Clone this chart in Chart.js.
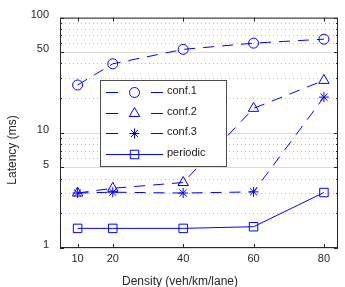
<!DOCTYPE html>
<html><head><meta charset="utf-8">
<script src="https://cdn.jsdelivr.net/npm/chart.js@4"></script>
<style>html,body{margin:0;padding:0;background:#fff;}#wrap{width:345px;height:287px;}</style>
</head><body><div id="wrap"><canvas id="c" width="345" height="287"></canvas></div>
<script>
const densities = [10, 20, 40, 60, 80];
const conf1 = [26, 39.7, 53, 60, 65];
const conf2 = [3.0, 3.3, 3.7, 16.3, 28.5];
const conf3 = [3.0, 3.05, 3.0, 3.07, 20.4];
const periodic = [1.48, 1.48, 1.48, 1.53, 3.03];
const seriesNames = ['conf.1', 'conf.2', 'conf.3', 'periodic'];
const xTickValues = [10, 20, 40, 60, 80];
const yTickValues = [1, 5, 10, 50, 100];
const yMinorValues = [2, 3, 4, 6, 7, 8, 9, 20, 30, 40, 60, 70, 80, 90];
const xTitle = 'Density (veh/km/lane)';
const yTitle = 'Latency (ms)';

const BLUE = '#0000ff';
const FONT = "'Liberation Sans', Arial, sans-serif";
const toPts = arr => arr.map((v, i) => ({x: densities[i], y: v}));

function ds(label, data, style, radius, dash) {
  return {
    label, data: toPts(data), borderColor: BLUE, backgroundColor: 'rgba(0,0,0,0)',
    borderWidth: 1, borderDash: dash, pointStyle: style, pointRadius: radius,
    pointBorderColor: BLUE, pointBackgroundColor: 'rgba(0,0,0,0)', pointBorderWidth: 1,
    tension: 0, fill: false
  };
}

const datasets = [
  ds(seriesNames[0], conf1, 'circle', 5, [11, 8]),
  ds(seriesNames[1], conf2, 'triangle', 6, [11, 8]),
  ds(seriesNames[2], conf3, 'star', 5, [11, 8]),
  ds(seriesNames[3], periodic, 'rect', 6, [])
];

function drawMarker(ctx, style, r, x, y) {
  if (Chart.helpers && Chart.helpers.drawPoint) {
    Chart.helpers.drawPoint(ctx, {pointStyle: style, radius: r, rotation: 0, borderWidth: 1}, x, y);
  }
}

const deco = {
  id: 'deco',
  beforeDatasetsDraw(chart) {
    const ctx = chart.ctx, a = chart.chartArea, ys = chart.scales.y;
    ctx.save();
    ctx.lineWidth = 1;
    ctx.strokeStyle = '#b8b8b8';
    ctx.setLineDash([1, 3]);
    yMinorValues.forEach(v => {
      const py = Math.round(ys.getPixelForValue(v)) + 0.5;
      ctx.beginPath(); ctx.moveTo(a.left + 1, py); ctx.lineTo(a.right - 1, py); ctx.stroke();
    });
    ctx.setLineDash([]);
    ctx.strokeStyle = '#dadada';
    yTickValues.forEach(v => {
      const py = Math.round(ys.getPixelForValue(v)) + 0.5;
      ctx.beginPath(); ctx.moveTo(a.left, py); ctx.lineTo(a.right, py); ctx.stroke();
    });
    ctx.restore();
  },
  afterDatasetsDraw(chart) {
    const ctx = chart.ctx, a = chart.chartArea, ys = chart.scales.y, xs = chart.scales.x;
    ctx.save();
    ctx.setLineDash([]);
    ctx.lineWidth = 1;
    ctx.strokeStyle = '#262626';
    ctx.strokeRect(a.left + 0.5, a.top + 0.5, a.right - a.left - 1, a.bottom - a.top - 1);
    ctx.beginPath();
    xTickValues.forEach(v => {
      const px = Math.round(xs.getPixelForValue(v)) + 0.5;
      ctx.moveTo(px, a.bottom); ctx.lineTo(px, a.bottom - 4);
      ctx.moveTo(px, a.top); ctx.lineTo(px, a.top + 4);
    });
    yTickValues.forEach(v => {
      const py = Math.round(ys.getPixelForValue(v)) + 0.5;
      ctx.moveTo(a.left, py); ctx.lineTo(a.left + 4, py);
      ctx.moveTo(a.right, py); ctx.lineTo(a.right - 4, py);
    });
    yMinorValues.forEach(v => {
      const py = Math.round(ys.getPixelForValue(v)) + 0.5;
      ctx.moveTo(a.left, py); ctx.lineTo(a.left + 2, py);
      ctx.moveTo(a.right, py); ctx.lineTo(a.right - 2, py);
    });
    ctx.stroke();

    // legend
    const lx = 100, ly = 80, lw = 127, lh = 87;
    ctx.fillStyle = '#ffffff';
    ctx.fillRect(lx, ly, lw, lh);
    ctx.strokeStyle = '#4d4d4d';
    ctx.strokeRect(lx + 0.5, ly + 0.5, lw - 1, lh - 1);
    const rows = [92, 112.5, 133, 153.5];
    chart.data.datasets.forEach((d, i) => {
      const cy = Math.round(rows[i]) + 0.5;
      ctx.strokeStyle = d.borderColor;
      ctx.fillStyle = 'rgba(0,0,0,0)';
      ctx.lineWidth = 1;
      ctx.beginPath();
      if (d.borderDash && d.borderDash.length) {
        ctx.moveTo(106, cy); ctx.lineTo(118, cy);
        ctx.moveTo(151, cy); ctx.lineTo(163, cy);
      } else {
        ctx.moveTo(106, cy); ctx.lineTo(163, cy);
      }
      ctx.stroke();
      drawMarker(ctx, d.pointStyle, d.pointRadius, 134.5, cy);
      ctx.fillStyle = '#1a1a1a';
      ctx.font = '11px ' + FONT;
      ctx.textAlign = 'left';
      ctx.textBaseline = 'middle';
      ctx.fillText(d.label, 167, rows[i] - 1);
    });
    ctx.restore();
  },
  afterDraw(chart) {
    const ctx = chart.ctx;
    ctx.save();
    ctx.fillStyle = '#262626';
    ctx.font = '12px ' + FONT;
    ctx.textAlign = 'center';
    ctx.textBaseline = 'middle';
    ctx.fillText(xTitle, 180, 282);
    ctx.translate(13, 150);
    ctx.rotate(-Math.PI / 2);
    ctx.fillText(yTitle, 0, 0);
    ctx.restore();
  }
};

new Chart(document.getElementById('c'), {
  type: 'line',
  data: {datasets},
  options: {
    responsive: false, animation: false, devicePixelRatio: 1,
    layout: {padding: {top: 17, right: 2, left: 0, bottom: 0}},
    plugins: {legend: {display: false}, tooltip: {enabled: false}},
    scales: {
      x: {
        type: 'linear', min: 5, max: 84,
        grid: {display: false, drawTicks: false}, border: {display: false},
        afterBuildTicks: s => { s.ticks = xTickValues.map(v => ({value: v})); },
        afterFit: s => { s.height = 39; },
        ticks: {autoSkip: false, maxRotation: 0, padding: 4, color: '#262626',
          font: {family: FONT, size: 11}, callback: v => String(v)}
      },
      y: {
        type: 'logarithmic', min: 1, max: 100,
        grid: {display: false, drawTicks: false}, border: {display: false},
        afterBuildTicks: s => { s.ticks = yTickValues.map(v => ({value: v})); },
        afterFit: s => { s.width = 60; },
        ticks: {autoSkip: false, padding: 11, labelOffset: -3, color: '#262626',
          font: {family: FONT, size: 11}, callback: v => String(v)}
      }
    }
  },
  plugins: [deco]
});
</script>
</body></html>
